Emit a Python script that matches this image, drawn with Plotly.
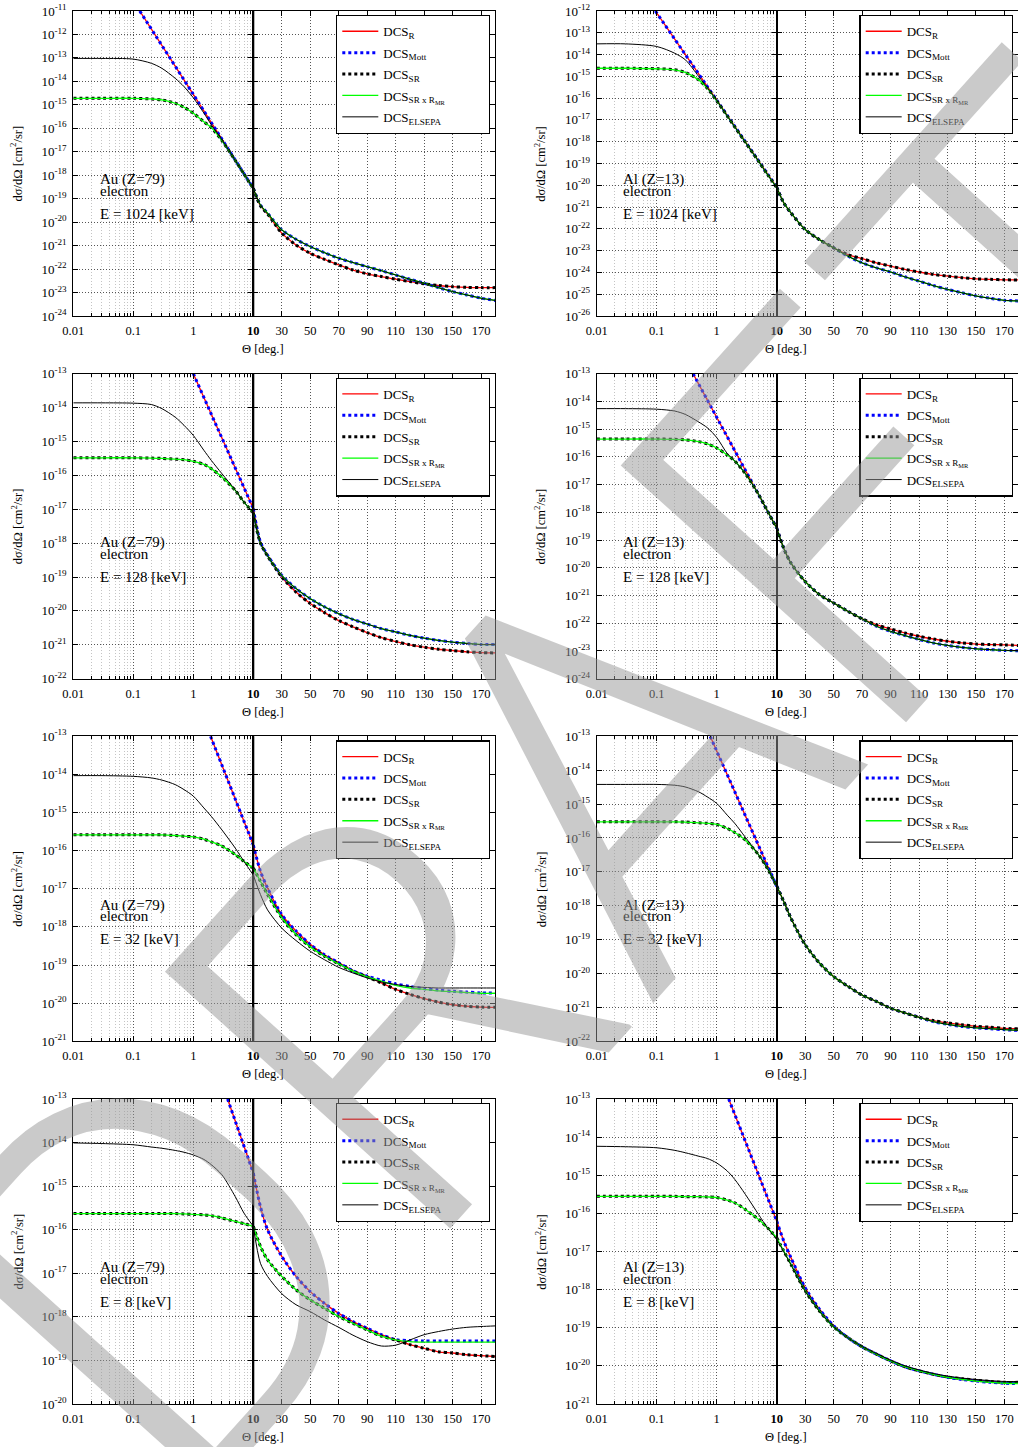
import plotly.graph_objects as go

# ---------------- angles (degrees) ----------------
TH_LOG = [0.01, 0.03, 0.1, 0.2, 0.3, 0.5, 0.7, 1, 1.5, 2, 3, 5, 7, 10]
TH_LIN = [10, 15, 20, 30, 40, 50, 60, 70, 80, 90, 100, 110, 120, 130, 140, 150, 160, 170, 180]

# ---------------- Au (Z=79), 1024 keV ----------------
AU1024_R_TH = [0.128, 1, 10]
AU1024_R_LOG = [1.0e-11, 2.8e-15, 2.75e-19]
AU1024_SR_LOG = [1.9e-15, 1.9e-15, 1.9e-15, 1.78e-15, 1.62e-15, 1.17e-15, 7.9e-16, 4.4e-16, 1.9e-16, 1.07e-16, 3.0e-17, 4.3e-18, 1.12e-18, 2.7e-19]
AU1024_EL_LOG = [9.5e-14, 9.5e-14, 8.9e-14, 5.9e-14, 3.6e-14, 1.35e-14, 6.0e-15, 2.0e-15, 4.5e-16, 1.41e-16, 3.2e-17, 4.3e-18, 1.12e-18, 2.7e-19]
AU1024_R_LIN = [2.75e-19, 5.0e-20, 2.24e-20, 3.4e-21, 1.07e-21, 4.7e-22, 2.6e-22, 1.51e-22, 9.1e-23, 6.3e-23, 4.8e-23, 3.7e-23, 2.95e-23, 2.35e-23, 2.0e-23, 1.78e-23, 1.66e-23, 1.62e-23, 1.62e-23]
AU1024_MOTT_LIN = [2.75e-19, 5.4e-20, 2.4e-20, 4.7e-21, 1.86e-21, 9.1e-22, 5.0e-22, 2.9e-22, 1.9e-22, 1.26e-22, 8.5e-23, 5.6e-23, 3.7e-23, 2.5e-23, 1.62e-23, 1.1e-23, 7.9e-24, 5.75e-24, 4.6e-24]
AU1024_SR_LIN = AU1024_R_LIN
AU1024_GREEN_LIN = AU1024_MOTT_LIN
AU1024_EL_LIN = AU1024_MOTT_LIN

# ---------------- Au (Z=79), 128 keV ----------------
AU128_R_TH = [1, 10]
AU128_R_LOG = [1.0e-13, 1.05e-17]
AU128_SR_LOG = [3.3e-16, 3.3e-16, 3.3e-16, 3.24e-16, 3.16e-16, 3.0e-16, 2.9e-16, 2.6e-16, 2.1e-16, 1.58e-16, 8.9e-17, 3.6e-17, 1.62e-17, 7.9e-18]
AU128_EL_LOG = [1.38e-14, 1.38e-14, 1.35e-14, 1.23e-14, 9.3e-15, 5.2e-15, 3.0e-15, 1.51e-15, 5.5e-16, 2.75e-16, 1.12e-16, 3.7e-17, 1.62e-17, 7.9e-18]
AU128_R_LIN = [1.05e-17, 1.07e-18, 4.4e-19, 1.0e-19, 3.6e-20, 1.66e-20, 8.9e-21, 5.2e-21, 3.4e-21, 2.3e-21, 1.62e-21, 1.26e-21, 1.0e-21, 8.5e-22, 7.4e-22, 6.8e-22, 6.2e-22, 5.9e-22, 5.75e-22]
AU128_MOTT_LIN = [1.05e-17, 1.07e-18, 4.4e-19, 1.12e-19, 4.6e-20, 2.3e-20, 1.32e-20, 8.3e-21, 5.6e-21, 4.1e-21, 3.0e-21, 2.4e-21, 1.9e-21, 1.58e-21, 1.35e-21, 1.2e-21, 1.1e-21, 1.02e-21, 1.02e-21]
AU128_SR_LIN = [7.9e-18, 1.0e-18, 4.2e-19, 1.0e-19, 3.6e-20, 1.66e-20, 8.9e-21, 5.2e-21, 3.4e-21, 2.3e-21, 1.62e-21, 1.26e-21, 1.0e-21, 8.5e-22, 7.4e-22, 6.8e-22, 6.2e-22, 5.9e-22, 5.75e-22]
AU128_GREEN_LIN = [7.9e-18, 1.0e-18, 4.2e-19, 1.12e-19, 4.6e-20, 2.3e-20, 1.32e-20, 8.3e-21, 5.6e-21, 4.1e-21, 3.0e-21, 2.4e-21, 1.9e-21, 1.58e-21, 1.35e-21, 1.2e-21, 1.1e-21, 1.02e-21, 1.02e-21]
AU128_EL_LIN = AU128_GREEN_LIN

# ---------------- Au (Z=79), 32 keV ----------------
AU32_R_TH = [1.94, 10]
AU32_R_LOG = [1.0e-13, 1.41e-16]
AU32_SR_LOG = [2.6e-16, 2.6e-16, 2.6e-16, 2.6e-16, 2.6e-16, 2.5e-16, 2.4e-16, 2.3e-16, 2.0e-16, 1.7e-16, 1.32e-16, 7.9e-17, 5.2e-17, 3.5e-17]
AU32_EL_LOG = [9.3e-15, 9.3e-15, 8.9e-15, 8.1e-15, 7.1e-15, 5.4e-15, 4.0e-15, 2.7e-15, 1.32e-15, 7.9e-16, 3.5e-16, 1.17e-16, 5.2e-17, 2.3e-17]
AU32_R_LIN = [1.41e-16, 2.9e-17, 1.05e-17, 2.1e-18, 7.8e-19, 3.5e-19, 1.86e-19, 1.15e-19, 7.1e-20, 5.1e-20, 3.4e-20, 2.3e-20, 1.7e-20, 1.32e-20, 1.07e-20, 9.1e-21, 8.3e-21, 7.9e-21, 7.8e-21]
AU32_MOTT_LIN = [1.41e-16, 2.9e-17, 1.05e-17, 2.1e-18, 7.8e-19, 3.5e-19, 1.86e-19, 1.15e-19, 7.1e-20, 5.1e-20, 4.0e-20, 3.2e-20, 2.75e-20, 2.4e-20, 2.2e-20, 2.05e-20, 1.95e-20, 1.86e-20, 1.86e-20]
AU32_SR_LIN = [3.5e-17, 1.58e-17, 7.1e-18, 1.74e-18, 6.3e-19, 3.0e-19, 1.7e-19, 1.07e-19, 6.9e-20, 4.9e-20, 3.4e-20, 2.3e-20, 1.7e-20, 1.32e-20, 1.07e-20, 9.1e-21, 8.3e-21, 7.9e-21, 7.8e-21]
AU32_GREEN_LIN = [3.5e-17, 1.58e-17, 7.1e-18, 1.74e-18, 6.3e-19, 3.0e-19, 1.7e-19, 1.07e-19, 6.9e-20, 4.9e-20, 3.8e-20, 2.95e-20, 2.5e-20, 2.3e-20, 2.1e-20, 2.0e-20, 1.9e-20, 1.82e-20, 1.82e-20]
AU32_EL_LIN = [2.3e-17, 7.1e-18, 2.8e-18, 9.3e-19, 4.4e-19, 2.3e-19, 1.38e-19, 8.7e-20, 6.2e-20, 4.6e-20, 3.6e-20, 3.1e-20, 2.75e-20, 2.6e-20, 2.5e-20, 2.5e-20, 2.5e-20, 2.5e-20, 2.5e-20]

# ---------------- Au (Z=79), 8 keV ----------------
AU8_R_TH = [3.73, 10]
AU8_R_LOG = [1.0e-13, 2.0e-15]
AU8_SR_LOG = [2.35e-16, 2.35e-16, 2.35e-16, 2.35e-16, 2.35e-16, 2.35e-16, 2.3e-16, 2.24e-16, 2.2e-16, 2.1e-16, 1.86e-16, 1.55e-16, 1.38e-16, 1.2e-16]
AU8_EL_LOG = [9.8e-15, 9.5e-15, 8.9e-15, 7.9e-15, 7.4e-15, 6.6e-15, 6.0e-15, 5.2e-15, 4.1e-15, 3.1e-15, 1.82e-15, 5.75e-16, 2.4e-16, 1.2e-16]
AU8_R_LIN = [2.0e-15, 3.4e-16, 1.0e-16, 2.45e-17, 8.5e-18, 3.8e-18, 2.04e-18, 1.2e-18, 7.8e-19, 5.5e-19, 3.9e-19, 2.95e-19, 2.3e-19, 1.9e-19, 1.58e-19, 1.48e-19, 1.35e-19, 1.29e-19, 1.23e-19]
AU8_MOTT_LIN = [2.0e-15, 3.4e-16, 1.0e-16, 2.45e-17, 8.5e-18, 3.8e-18, 2.04e-18, 1.2e-18, 7.8e-19, 5.5e-19, 3.9e-19, 3.0e-19, 2.85e-19, 2.8e-19, 2.8e-19, 2.8e-19, 2.8e-19, 2.8e-19, 2.8e-19]
AU8_SR_LIN = [1.2e-16, 4.2e-17, 2.04e-17, 8.5e-18, 4.2e-18, 2.45e-18, 1.58e-18, 1.02e-18, 7.1e-19, 5.0e-19, 3.6e-19, 2.95e-19, 2.3e-19, 1.9e-19, 1.58e-19, 1.48e-19, 1.35e-19, 1.29e-19, 1.23e-19]
AU8_GREEN_LIN = [1.2e-16, 4.2e-17, 2.04e-17, 8.5e-18, 4.2e-18, 2.45e-18, 1.58e-18, 1.02e-18, 7.1e-19, 5.0e-19, 3.6e-19, 2.95e-19, 2.7e-19, 2.63e-19, 2.63e-19, 2.63e-19, 2.63e-19, 2.63e-19, 2.63e-19]
AU8_EL_LIN = [1.2e-16, 1.7e-17, 8.5e-18, 3.4e-18, 1.9e-18, 1.32e-18, 8.5e-19, 5.75e-19, 3.8e-19, 2.7e-19, 2.14e-19, 2.24e-19, 2.95e-19, 3.9e-19, 4.6e-19, 5.25e-19, 5.75e-19, 6.0e-19, 6.2e-19]

# ---------------- Al (Z=13), 1024 keV ----------------
AL1024_R_TH = [0.095, 1, 10]
AL1024_R_LOG = [1.0e-12, 8.1e-17, 8.1e-21]
AL1024_SR_LOG = [2.35e-15, 2.35e-15, 2.24e-15, 2.0e-15, 1.51e-15, 6.9e-16, 2.8e-16, 7.6e-17, 1.51e-17, 4.8e-18, 9.5e-19, 1.26e-19, 3.16e-20, 7.9e-21]
AL1024_EL_LOG = [3.1e-14, 3.1e-14, 2.35e-14, 1.15e-14, 5.75e-15, 1.0e-15, 2.95e-16, 7.9e-17, 1.51e-17, 4.8e-18, 9.5e-19, 1.26e-19, 3.16e-20, 7.9e-21]
AL1024_R_LIN = [8.1e-21, 1.55e-21, 5.4e-22, 9.3e-23, 3.2e-23, 1.35e-23, 6.6e-24, 4.3e-24, 2.75e-24, 1.95e-24, 1.38e-24, 1.05e-24, 8.1e-25, 6.8e-25, 5.75e-25, 5.1e-25, 4.8e-25, 4.6e-25, 4.5e-25]
AL1024_MOTT_LIN = [8.1e-21, 1.55e-21, 5.4e-22, 9.3e-23, 3.2e-23, 1.35e-23, 5.6e-24, 2.75e-24, 1.62e-24, 1.05e-24, 6.3e-25, 4.0e-25, 2.5e-25, 1.66e-25, 1.17e-25, 8.3e-26, 6.5e-26, 5.25e-26, 4.9e-26]
AL1024_SR_LIN = AL1024_R_LIN
AL1024_GREEN_LIN = AL1024_MOTT_LIN
AL1024_EL_LIN = AL1024_MOTT_LIN

# ---------------- Al (Z=13), 128 keV ----------------
AL128_R_TH = [0.404, 10]
AL128_R_LOG = [1.0e-13, 2.7e-19]
AL128_SR_LOG = [4.4e-16, 4.4e-16, 4.4e-16, 4.3e-16, 4.1e-16, 3.55e-16, 2.95e-16, 2.1e-16, 1.17e-16, 7.1e-17, 2.5e-17, 4.4e-18, 1.12e-18, 2.7e-19]
AL128_EL_LOG = [5.5e-15, 5.5e-15, 5.25e-15, 4.5e-15, 3.4e-15, 1.82e-15, 1.12e-15, 5.0e-16, 1.32e-16, 7.1e-17, 2.5e-17, 4.4e-18, 1.12e-18, 2.7e-19]
AL128_R_LIN = [2.7e-19, 5.0e-20, 1.48e-20, 3.2e-21, 1.07e-21, 5.4e-22, 2.7e-22, 1.45e-22, 8.9e-23, 6.2e-23, 4.5e-23, 3.4e-23, 2.7e-23, 2.24e-23, 1.95e-23, 1.78e-23, 1.7e-23, 1.66e-23, 1.58e-23]
AL128_MOTT_LIN = [2.7e-19, 5.0e-20, 1.48e-20, 3.2e-21, 1.07e-21, 5.4e-22, 2.7e-22, 1.45e-22, 7.8e-23, 5.1e-23, 3.6e-23, 2.6e-23, 1.95e-23, 1.58e-23, 1.35e-23, 1.2e-23, 1.12e-23, 1.05e-23, 1.02e-23]
AL128_SR_LIN = AL128_R_LIN
AL128_GREEN_LIN = AL128_MOTT_LIN
AL128_EL_LIN = AL128_MOTT_LIN

# ---------------- Al (Z=13), 32 keV ----------------
AL32_R_TH = [0.78, 10]
AL32_R_LOG = [1.0e-13, 3.7e-18]
AL32_SR_LOG = [3.0e-16, 3.0e-16, 3.0e-16, 3.0e-16, 2.95e-16, 2.8e-16, 2.7e-16, 2.5e-16, 1.9e-16, 1.45e-16, 8.7e-17, 3.16e-17, 1.26e-17, 3.8e-18]
AL32_EL_LOG = [3.8e-15, 3.8e-15, 3.8e-15, 3.6e-15, 3.2e-15, 2.3e-15, 1.62e-15, 1.05e-15, 4.7e-16, 2.7e-16, 1.05e-16, 3.16e-17, 1.26e-17, 3.8e-18]
AL32_R_LIN = [3.8e-18, 1.32e-18, 4.3e-19, 7.1e-20, 2.04e-20, 8.1e-21, 4.2e-21, 2.3e-21, 1.5e-21, 9.5e-22, 6.9e-22, 5.1e-22, 4.1e-22, 3.5e-22, 3.1e-22, 2.75e-22, 2.6e-22, 2.4e-22, 2.35e-22]
AL32_MOTT_LIN = [3.8e-18, 1.32e-18, 4.3e-19, 7.1e-20, 2.04e-20, 8.1e-21, 4.2e-21, 2.3e-21, 1.5e-21, 9.5e-22, 6.9e-22, 5.1e-22, 3.8e-22, 3.16e-22, 2.75e-22, 2.5e-22, 2.35e-22, 2.2e-22, 2.1e-22]
AL32_SR_LIN = AL32_R_LIN
AL32_GREEN_LIN = AL32_MOTT_LIN
AL32_EL_LIN = AL32_MOTT_LIN

# ---------------- Al (Z=13), 8 keV ----------------
AL8_R_TH = [1.585, 10]
AL8_R_LOG = [1.0e-13, 6.3e-17]
AL8_SR_LOG = [2.8e-16, 2.8e-16, 2.8e-16, 2.8e-16, 2.75e-16, 2.75e-16, 2.7e-16, 2.6e-16, 2.24e-16, 1.9e-16, 1.26e-16, 6.9e-17, 4.2e-17, 2.3e-17]
AL8_EL_LOG = [5.75e-15, 5.6e-15, 5.25e-15, 4.5e-15, 3.9e-15, 3.16e-15, 2.75e-15, 2.1e-15, 1.29e-15, 7.8e-16, 3.16e-16, 9.3e-17, 4.2e-17, 2.1e-17]
AL8_R_LIN = [6.3e-17, 1.86e-17, 6.9e-18, 1.12e-18, 3.1e-19, 1.12e-19, 5.5e-20, 3.16e-20, 2.04e-20, 1.35e-20, 9.5e-21, 7.4e-21, 6.0e-21, 5.1e-21, 4.6e-21, 4.2e-21, 3.9e-21, 3.7e-21, 3.7e-21]
AL8_MOTT_LIN = [6.3e-17, 1.86e-17, 6.9e-18, 1.12e-18, 3.1e-19, 1.12e-19, 5.5e-20, 3.16e-20, 2.04e-20, 1.35e-20, 9.5e-21, 7.4e-21, 6.0e-21, 5.0e-21, 4.4e-21, 4.0e-21, 3.7e-21, 3.5e-21, 3.45e-21]
AL8_SR_LIN = [2.3e-17, 1.02e-17, 4.6e-18, 9.3e-19, 2.75e-19, 1.05e-19, 5.5e-20, 3.16e-20, 2.04e-20, 1.35e-20, 9.5e-21, 7.4e-21, 6.0e-21, 5.1e-21, 4.6e-21, 4.2e-21, 3.9e-21, 3.7e-21, 3.7e-21]
AL8_GREEN_LIN = [2.3e-17, 1.02e-17, 4.6e-18, 9.3e-19, 2.75e-19, 1.05e-19, 5.5e-20, 3.16e-20, 2.04e-20, 1.35e-20, 9.5e-21, 7.4e-21, 6.0e-21, 5.0e-21, 4.4e-21, 4.0e-21, 3.7e-21, 3.5e-21, 3.45e-21]
AL8_EL_LIN = [2.1e-17, 9.8e-18, 4.5e-18, 9.1e-19, 2.7e-19, 1.05e-19, 5.5e-20, 3.2e-20, 2.1e-20, 1.4e-20, 1.0e-20, 7.8e-21, 6.3e-21, 5.4e-21, 4.8e-21, 4.4e-21, 4.1e-21, 3.9e-21, 3.9e-21]

# ---------------- labels ----------------
TARGETS = ["Au (Z=79)", "Al (Z=13)"]
ENERGIES_KEV = [1024, 128, 32, 8]
Y_EXP_AU = [(-24, -11), (-22, -13), (-21, -13), (-20, -13)]
Y_EXP_AL = [(-26, -12), (-24, -13), (-22, -13), (-21, -13)]
X_LOG_TICKS = [0.01, 0.1, 1]
X_LIN_TICKS = [10, 30, 50, 70, 90, 110, 130, 150, 170]
PAD = "\u00a0" * 13
SERIES_NAMES = ["DCS<sub>R</sub>", "DCS<sub>Mott</sub>", "DCS<sub>SR</sub>",
                "DCS<sub>SR x R<sub>MR</sub></sub>", "DCS<sub>ELSEPA</sub>" + PAD]

AU_DATA = [
    (AU1024_R_TH, AU1024_R_LOG, AU1024_SR_LOG, AU1024_EL_LOG, AU1024_R_LIN, AU1024_MOTT_LIN, AU1024_SR_LIN, AU1024_GREEN_LIN, AU1024_EL_LIN),
    (AU128_R_TH, AU128_R_LOG, AU128_SR_LOG, AU128_EL_LOG, AU128_R_LIN, AU128_MOTT_LIN, AU128_SR_LIN, AU128_GREEN_LIN, AU128_EL_LIN),
    (AU32_R_TH, AU32_R_LOG, AU32_SR_LOG, AU32_EL_LOG, AU32_R_LIN, AU32_MOTT_LIN, AU32_SR_LIN, AU32_GREEN_LIN, AU32_EL_LIN),
    (AU8_R_TH, AU8_R_LOG, AU8_SR_LOG, AU8_EL_LOG, AU8_R_LIN, AU8_MOTT_LIN, AU8_SR_LIN, AU8_GREEN_LIN, AU8_EL_LIN),
]
AL_DATA = [
    (AL1024_R_TH, AL1024_R_LOG, AL1024_SR_LOG, AL1024_EL_LOG, AL1024_R_LIN, AL1024_MOTT_LIN, AL1024_SR_LIN, AL1024_GREEN_LIN, AL1024_EL_LIN),
    (AL128_R_TH, AL128_R_LOG, AL128_SR_LOG, AL128_EL_LOG, AL128_R_LIN, AL128_MOTT_LIN, AL128_SR_LIN, AL128_GREEN_LIN, AL128_EL_LIN),
    (AL32_R_TH, AL32_R_LOG, AL32_SR_LOG, AL32_EL_LOG, AL32_R_LIN, AL32_MOTT_LIN, AL32_SR_LIN, AL32_GREEN_LIN, AL32_EL_LIN),
    (AL8_R_TH, AL8_R_LOG, AL8_SR_LOG, AL8_EL_LOG, AL8_R_LIN, AL8_MOTT_LIN, AL8_SR_LIN, AL8_GREEN_LIN, AL8_EL_LIN),
]

# ---------------- geometry / style ----------------
W, H = 1018, 1447
COL_LEFT = [73.3, 596.7]
LOG_W, LIN_W = 180.0, 242.0
ROW_TOP = [11.0, 373.7, 736.3, 1099.0]
PANEL_H = 305.0
SERIF = "Liberation Serif"

STYLES = [
    dict(color="#ff0000", width=1.3, dash="solid"),
    dict(color="#0000ff", width=3, dash="3px,3px"),
    dict(color="#000000", width=3, dash="3px,3px"),
    dict(color="#00ff00", width=1.3, dash="solid"),
    dict(color="#000000", width=1.0, dash="solid"),
]

MINOR_LOG = [m * d for d in (0.01, 0.1, 1) for m in range(2, 10)]

fig = go.Figure()
layout = dict(template="none", width=W, height=H,
              margin=dict(l=0, r=0, t=0, b=0, autoexpand=False),
              paper_bgcolor="white", plot_bgcolor="white", showlegend=True)
annotations = []
shapes = []

AXIS_COMMON = dict(showline=True, linecolor="black", linewidth=1.2, mirror="ticks",
                   ticks="inside", ticklen=5, tickcolor="black", tickwidth=1,
                   showgrid=True, gridcolor="#555555", gridwidth=1, griddash="1px,2px",
                   zeroline=False, automargin=False,
                   tickfont=dict(family=SERIF, size=12.5, color="black"),
                   ticklabelstandoff=3)

panel_idx = 0
for col in range(2):
    data_list = AU_DATA if col == 0 else AL_DATA
    yexps = Y_EXP_AU if col == 0 else Y_EXP_AL
    for row in range(4):
        (r_th, r_log, sr_log, el_log, r_lin, mott_lin, sr_lin, green_lin, el_lin) = data_list[row]
        lo, hi = yexps[row]
        a_log = 2 * panel_idx + 1
        a_lin = 2 * panel_idx + 2
        sx_log = "" if a_log == 1 else str(a_log)
        sx_lin = str(a_lin)
        left = COL_LEFT[col]
        split = left + LOG_W
        right = min(split + LIN_W, W)
        lin_max = 10 + (right - split) / LIN_W * 170.0
        top = ROW_TOP[row]
        ydom = [1 - (top + PANEL_H) / H, 1 - top / H]
        legend_key = "legend" if panel_idx == 0 else f"legend{panel_idx + 1}"

        ytv = [10.0 ** k for k in range(lo, hi + 1)]
        ytt = [f"10<sup>{k}</sup>" for k in range(lo, hi + 1)]

        layout[f"xaxis{sx_log}"] = dict(AXIS_COMMON, type="log", range=[-2, 1],
                                        domain=[left / W, split / W], anchor=f"y{sx_log}",
                                        tickvals=X_LOG_TICKS, ticktext=["0.01", "0.1", "1"],
                                        minor=dict(tickvals=MINOR_LOG, ticks="inside", ticklen=3,
                                                   tickcolor="black", showgrid=True,
                                                   gridcolor="#c4c4c4", griddash="1px,2px"))
        layout[f"xaxis{sx_lin}"] = dict(AXIS_COMMON, type="linear", range=[10, lin_max],
                                        domain=[split / W, right / W], anchor=f"y{sx_lin}",
                                        tickvals=X_LIN_TICKS,
                                        ticktext=["<b>10</b>"] + [str(v) for v in X_LIN_TICKS[1:]])
        layout[f"yaxis{sx_log}"] = dict(AXIS_COMMON, type="log", range=[lo, hi], domain=ydom,
                                        anchor=f"x{sx_log}", side="left",
                                        tickvals=ytv, ticktext=ytt,
                                        tickfont=dict(family=SERIF, size=13, color="black"))
        layout[f"yaxis{sx_lin}"] = dict(AXIS_COMMON, type="log", range=[lo, hi], domain=ydom,
                                        anchor=f"x{sx_lin}", side="right",
                                        tickvals=ytv, showticklabels=False)

        log_sets = [(r_th, r_log), (r_th, r_log), (TH_LOG, sr_log), (TH_LOG, sr_log), (TH_LOG, el_log)]
        lin_sets = [r_lin, mott_lin, sr_lin, green_lin, el_lin]
        for k in range(5):
            st = STYLES[k]
            grp = f"p{panel_idx}_s{k}"
            fig.add_trace(go.Scatter(
                x=log_sets[k][0], y=log_sets[k][1], mode="lines", name=SERIES_NAMES[k],
                line=dict(color=st["color"], width=st["width"], dash=st["dash"], shape="spline", smoothing=0.8),
                xaxis=f"x{sx_log}", yaxis=f"y{sx_log}", legend=legend_key,
                legendgroup=grp, showlegend=True, hoverinfo="skip"))
            fig.add_trace(go.Scatter(
                x=TH_LIN, y=lin_sets[k], mode="lines", name=SERIES_NAMES[k],
                line=dict(color=st["color"], width=st["width"], dash=st["dash"], shape="spline", smoothing=0.8),
                xaxis=f"x{sx_lin}", yaxis=f"y{sx_lin}", legend=legend_key,
                legendgroup=grp, showlegend=False, hoverinfo="skip"))

        layout[legend_key] = dict(
            x=(left + 262.7) / W, y=1 - (top + 4) / H, xanchor="left", yanchor="top",
            xref="paper", yref="paper", bgcolor="white", bordercolor="black", borderwidth=1.3,
            font=dict(family=SERIF, size=13, color="black"), tracegroupgap=1.5, itemwidth=36,
            traceorder="grouped")

        # split line at 10 deg
        shapes.append(dict(type="line", xref=f"x{sx_lin}", x0=10, x1=10,
                           yref=f"y{sx_lin} domain", y0=0, y1=1,
                           line=dict(color="black", width=2)))

        # text in panel
        for txt, yy in [(TARGETS[col], 0.446), ("electron", 0.41), (f"E = {ENERGIES_KEV[row]} [keV]", 0.334)]:
            annotations.append(dict(text=txt, xref=f"x{sx_log} domain", yref=f"y{sx_log} domain",
                                    x=(98 - 73.3) / LOG_W, y=yy, xanchor="left", yanchor="middle",
                                    showarrow=False, font=dict(family=SERIF, size=15, color="black")))
        # axis titles
        annotations.append(dict(text="dσ/dΩ [cm<sup>2</sup>/sr]", xref=f"x{sx_log} domain",
                                yref=f"y{sx_log} domain", x=-0.313, y=0.5, textangle=-90,
                                xanchor="center", yanchor="middle", showarrow=False,
                                font=dict(family=SERIF, size=12.5, color="black")))
        annotations.append(dict(text="Θ [deg.]", xref=f"x{sx_lin} domain", yref=f"y{sx_log} domain",
                                x=(263 - 253.3) / LIN_W, y=-33 / PANEL_H, xanchor="center",
                                yanchor="middle", showarrow=False,
                                font=dict(family=SERIF, size=12.5, color="black")))
        panel_idx += 1

# DRAFT watermark
annotations.append(dict(text="DRAFT", xref="paper", yref="paper", x=602 / W, y=1 - 785 / H,
                        xanchor="center", yanchor="middle", showarrow=False, textangle=-48,
                        font=dict(family="Roboto", size=540, weight=300,
                                  color="rgba(150,150,150,0.5)")))

layout["annotations"] = annotations
layout["shapes"] = shapes
fig.update_layout(**layout)
fig.write_html("out.html", config={"displayModeBar": False},
               post_script="document.body.style.margin='0px';document.body.style.padding='0px';")
